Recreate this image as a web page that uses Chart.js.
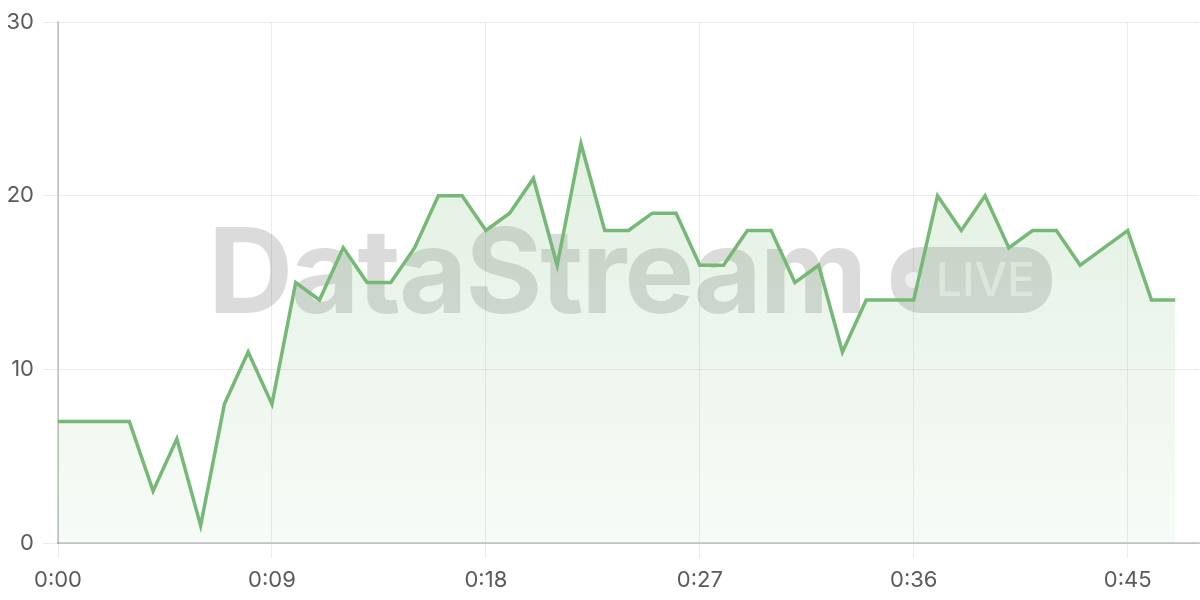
<!DOCTYPE html>
<html>
<head>
<meta charset="utf-8">
<script src="https://cdn.jsdelivr.net/npm/chart.js@4"></script>
<style>
  html, body { margin: 0; padding: 0; background: #fff; }
  #wrap { width: 1200px; height: 600px; }
</style>
</head>
<body>
<div id="wrap"><canvas id="chart"></canvas></div>
<script>
const timeLabels = [
  "0:00","0:01","0:02","0:03","0:04","0:05","0:06","0:07","0:08","0:09",
  "0:10","0:11","0:12","0:13","0:14","0:15","0:16","0:17","0:18","0:19",
  "0:20","0:21","0:22","0:23","0:24","0:25","0:26","0:27","0:28","0:29",
  "0:30","0:31","0:32","0:33","0:34","0:35","0:36","0:37","0:38","0:39",
  "0:40","0:41","0:42","0:43","0:44","0:45","0:46","0:47","0:48"
];
const values = [
  7,7,7,7,3,6,1,8,11,8,
  15,14,17,15,15,17,20,20,18,19,
  21,16,23,18,18,19,19,16,16,18,
  18,15,16,11,14,14,14,20,18,20,
  17,18,18,16,17,18,14,14
];
const yTicks = [0, 10, 20, 30];

const lineColor = "rgb(118,185,118)";
const tickFont = { family: "Inter, sans-serif", size: 22 };

// watermark drawn under the line
const watermark = {
  id: "watermark",
  beforeDatasetsDraw(chart) {
    const ctx = chart.ctx;
    ctx.save();
    ctx.fillStyle = "rgba(0,0,0,0.14)";
    ctx.font = "bold 118px Inter, sans-serif";
    ctx.letterSpacing = "-2.2px";
    ctx.textBaseline = "alphabetic";
    ctx.fillText("DataStream", 208, 313);
    ctx.beginPath();
    ctx.roundRect(891, 247, 161, 66, 30);
    ctx.fill();
    ctx.fillStyle = "rgba(255,255,255,0.55)";
    ctx.beginPath();
    ctx.arc(913, 280, 8, 0, Math.PI * 2);
    ctx.fill();
    ctx.letterSpacing = "0px";
    ctx.font = "500 46px Inter, sans-serif";
    ctx.fillText("LIVE", 936, 296);
    ctx.restore();
  }
};

new Chart(document.getElementById("chart"), {
  type: "line",
  data: {
    labels: timeLabels,
    datasets: [{
      data: values,
      borderColor: lineColor,
      borderWidth: 3.5,
      pointRadius: 0,
      tension: 0,
      fill: "origin",
      backgroundColor: (c) => {
        const a = c.chart.chartArea;
        if (!a) return "rgba(118,185,118,0.15)";
        const g = c.chart.ctx.createLinearGradient(0, a.top, 0, a.bottom);
        g.addColorStop(0, "rgba(118,185,118,0.25)");
        g.addColorStop(1, "rgba(118,185,118,0.06)");
        return g;
      }
    }]
  },
  options: {
    responsive: true, maintainAspectRatio: false, animation: false,
    layout: { padding: { top: 20, right: 0, left: 0, bottom: 0 } },
    plugins: { legend: { display: false }, tooltip: { enabled: false } },
    scales: {
      x: {
        afterFit: (axis) => { axis.height = 57; axis.paddingRight = 1; axis.paddingLeft = 0; },
        grid: {
          color: (c) => c.index % 9 === 0 ? "rgba(0,0,0,0.08)" : "rgba(0,0,0,0)",
          tickLength: 15
        },
        border: { color: "rgba(0,0,0,0.18)", width: 2 },
        ticks: {
          autoSkip: false, maxRotation: 0, color: "#5a5a5a", font: tickFont, padding: 9,
          callback: (v, i) => i % 9 === 0 ? timeLabels[i] : ""
        }
      },
      y: {
        min: 0, max: 30,
        afterFit: (axis) => { axis.width = 58; },
        afterBuildTicks: (axis) => { axis.ticks = yTicks.map(v => ({ value: v })); },
        grid: { color: "rgba(0,0,0,0.08)", tickLength: 15 },
        border: { color: "rgba(0,0,0,0.18)", width: 2 },
        ticks: { color: "#5a5a5a", font: tickFont, padding: 9 }
      }
    }
  },
  plugins: [watermark]
});
</script>
</body>
</html>
